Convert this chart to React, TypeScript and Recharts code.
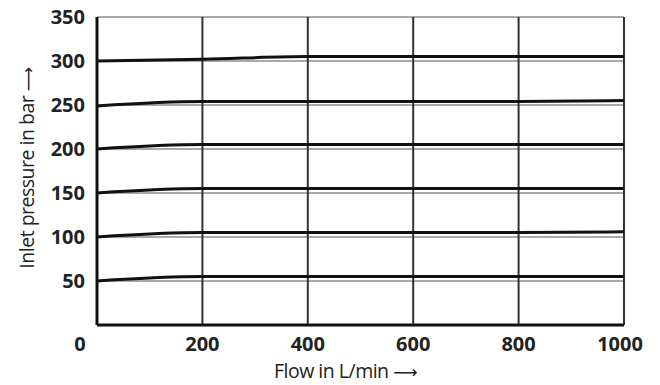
import { LineChart, Line, XAxis, YAxis, CartesianGrid, Label } from "recharts";

const flow = [0, 200, 400, 600, 800, 1000];
const p50 = [50, 55, 55, 55, 55, 55];
const p100 = [100, 105, 105, 105, 105, 106];
const p150 = [150, 155, 155, 155, 155, 155];
const p200 = [200, 205, 205, 205, 205, 205];
const p250 = [249, 254, 254, 254, 254, 255];
const p300 = [300, 302, 305, 305, 305, 305];

const xTicks = [0, 200, 400, 600, 800, 1000];
const yTicks = [50, 100, 150, 200, 250, 300, 350];

const seriesKeys = ["p50", "p100", "p150", "p200", "p250", "p300"];
const seriesValues = [p50, p100, p150, p200, p250, p300];

const data = flow.map((f, i) => {
  const row: Record<string, number> = { flow: f };
  seriesKeys.forEach((k, j) => {
    row[k] = seriesValues[j][i];
  });
  return row;
});

const FONT = "'Open Sans', sans-serif";
const ARROW_FONT = "'DejaVu Sans', sans-serif";

const XTick = (props: any) => {
  const { x, y, payload } = props;
  // the origin "0" sits left of the axis corner
  const shift = payload.value === 0 ? -17 : payload.value === 1000 ? -4 : 0;
  return (
    <text
      x={x + shift}
      y={y}
      dy="0.71em"
      textAnchor="middle"
      fontFamily={FONT}
      fontWeight={700}
      fontSize={20}
      fill="#222"
    >
      {payload.value}
    </text>
  );
};

const XTitle = (props: any) => {
  const { viewBox } = props;
  const cx = viewBox.x + viewBox.width / 2 - 15;
  return (
    <text
      x={cx}
      y={378}
      textAnchor="middle"
      fontFamily={FONT}
      fontSize={19.5}
      letterSpacing={-0.5}
      fill="#222"
    >
      Flow in L/min <tspan fontFamily={ARROW_FONT} fontSize={17}>⟶</tspan>
    </text>
  );
};

const YTitle = (props: any) => {
  const { viewBox } = props;
  const cy = viewBox.y + viewBox.height / 2 - 3;
  const x = 34;
  return (
    <text
      x={x}
      y={cy}
      transform={`rotate(-90, ${x}, ${cy})`}
      textAnchor="middle"
      fontFamily={FONT}
      fontSize={19.5}
      letterSpacing={-0.5}
      fill="#222"
    >
      Inlet pressure in bar <tspan fontFamily={ARROW_FONT} fontSize={17}>⟶</tspan>
    </text>
  );
};

export default function App() {
  return (
    <div style={{ position: "absolute", left: 0, top: 0, background: "#fff" }}>
      <LineChart
        width={660}
        height={385}
        data={data}
        margin={{ top: 17, right: 36, left: 0, bottom: 0 }}
      >
        <CartesianGrid horizontal={true} vertical={false} stroke="#555" strokeWidth={1} />
        <CartesianGrid horizontal={false} vertical={true} stroke="#333" strokeWidth={2} />
        <XAxis
          dataKey="flow"
          type="number"
          domain={[0, 1000]}
          ticks={xTicks}
          height={60}
          tickSize={0}
          tickMargin={12}
          axisLine={{ stroke: "#111", strokeWidth: 3 }}
          tick={<XTick />}
        >
          <Label content={<XTitle />} />
        </XAxis>
        <YAxis
          type="number"
          domain={[0, 350]}
          ticks={yTicks}
          width={97}
          tickSize={0}
          tickMargin={12}
          axisLine={{ stroke: "#111", strokeWidth: 3 }}
          tick={{ fontFamily: FONT, fontWeight: 700, fontSize: 20, fill: "#222" }}
        >
          <Label content={<YTitle />} />
        </YAxis>
        {seriesKeys.map((k) => (
          <Line
            key={k}
            dataKey={k}
            type="monotone"
            stroke="#111"
            strokeWidth={3}
            dot={false}
            isAnimationActive={false}
          />
        ))}
      </LineChart>
    </div>
  );
}
